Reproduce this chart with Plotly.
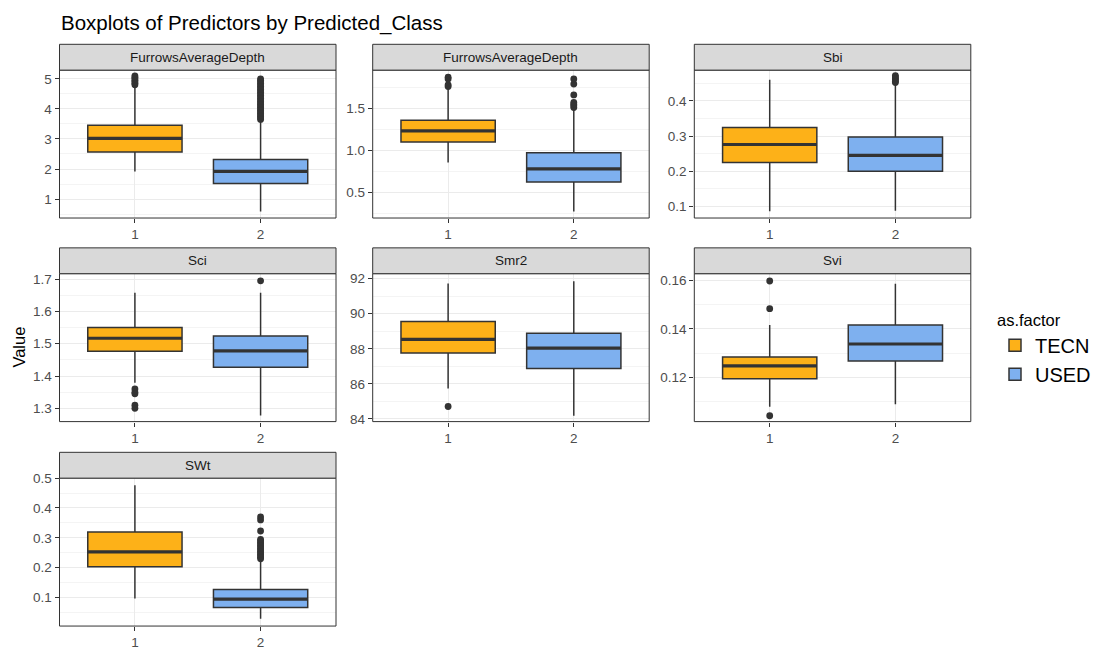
import plotly.graph_objects as go

W, H = 1097, 650

# ---------------- data ----------------
panel_names = ["FurrowsAverageDepth", "FurrowsAverageDepth", "Sbi",
               "Sci", "Smr2", "Svi", "SWt"]
class_labels = ["TECN", "USED"]
class_x = [1, 2]
x_tick_text = ["1", "2"]

tecn_q1 = [2.57, 1.100, 0.225, 1.477, 87.76, 0.1195, 0.203]
tecn_med = [3.02, 1.233, 0.276, 1.517, 88.54, 0.1248, 0.253]
tecn_q3 = [3.46, 1.358, 0.324, 1.550, 89.55, 0.1285, 0.320]
tecn_lo = [1.92, 0.856, 0.086, 1.379, 85.74, 0.1080, 0.097]
tecn_hi = [4.73, 1.740, 0.460, 1.658, 91.72, 0.1416, 0.476]
tecn_out = [
    [4.80, 4.85, 4.90, 4.95, 5.00, 5.05, 5.10],
    [1.76, 1.78, 1.85, 1.87],
    [],
    [1.360, 1.350, 1.345, 1.310, 1.300],
    [84.71],
    [0.1043, 0.1483, 0.1597],
    [],
]

used_q1 = [1.52, 0.625, 0.200, 1.427, 86.87, 0.1268, 0.067]
used_med = [1.92, 0.780, 0.245, 1.478, 88.04, 0.1338, 0.095]
used_q3 = [2.32, 0.973, 0.297, 1.524, 88.89, 0.1416, 0.127]
used_lo = [0.59, 0.275, 0.088, 1.278, 84.18, 0.1090, 0.029]
used_hi = [3.62, 1.500, 0.448, 1.658, 91.85, 0.1586, 0.225]
used_out = [
    [3.65, 3.70, 3.75, 3.80, 3.85, 3.90, 3.95, 4.00, 4.05, 4.10, 4.15, 4.20,
     4.25, 4.30, 4.35, 4.40, 4.45, 4.50, 4.55, 4.60, 4.65, 4.70, 4.75, 4.80,
     4.85, 4.90, 4.95, 5.00],
    [1.51, 1.53, 1.55, 1.57, 1.66, 1.79, 1.85],
    [0.452, 0.456, 0.460, 0.464, 0.468, 0.472],
    [1.695],
    [],
    [],
    [0.230, 0.235, 0.240, 0.245, 0.250, 0.255, 0.260, 0.265, 0.270, 0.275,
     0.280, 0.285, 0.290, 0.295, 0.323, 0.360, 0.370],
]

# ---------------- axis settings ----------------
y_tick0 = [1, 0.5, 0.1, 1.3, 84, 0.12, 0.1]
y_dtick = [1, 0.5, 0.1, 0.1, 2, 0.02, 0.1]
y_fmt = [".0f", ".1f", ".1f", ".1f", ".0f", ".2f", ".1f"]
y_ranges = [[0.37, 5.29], [0.197, 1.955], [0.067, 0.4875], [1.259, 1.717],
            [83.85, 92.28], [0.1019, 0.1627], [0.0046, 0.5]]

# ---------------- layout geometry (pixels) ----------------
col_left = [59.5, 372.7, 694.3]
panel_w = 276.5
row_top = [64.3, 271.7, 480.0]
panel_h = 150.7
strip_h = 26.3
box_w = 0.75

FONT = "Liberation Sans, Arial, Helvetica, sans-serif"
fills = {"TECN": "#FDB118", "USED": "#7EB0EF"}
DARK = "#333333"

fig = go.Figure()
shapes = []
annotations = []

groups = {
    "TECN": (tecn_q1, tecn_med, tecn_q3, tecn_lo, tecn_hi, tecn_out),
    "USED": (used_q1, used_med, used_q3, used_lo, used_hi, used_out),
}

for i, name in enumerate(panel_names):
    r, c = divmod(i, 3)
    k = "" if i == 0 else str(i + 1)
    xa, ya = "x" + k, "y" + k
    left = col_left[c]
    top = row_top[r]
    xdom = [left / W, (left + panel_w) / W]
    ydom = [1 - (top + panel_h) / H, 1 - top / H]

    fig.layout["xaxis" + k] = dict(
        domain=xdom, anchor=ya, range=[0.4, 2.6],
        tickmode="array", tickvals=class_x, ticktext=x_tick_text,
        ticks="outside", ticklen=4, tickwidth=1, tickcolor=DARK,
        showgrid=True, gridcolor="#EBEBEB", gridwidth=1.1,
        zeroline=False, showline=False,
        tickfont=dict(family=FONT, size=13.5, color="#4D4D4D"),
    )
    fig.layout["yaxis" + k] = dict(
        domain=ydom, anchor=xa, range=y_ranges[i],
        tickmode="linear", tick0=y_tick0[i], dtick=y_dtick[i],
        tickformat=y_fmt[i],
        ticks="outside", ticklen=4, tickwidth=1, tickcolor=DARK,
        showgrid=True, gridcolor="#EBEBEB", gridwidth=1.1,
        minor=dict(tick0=y_tick0[i], dtick=y_dtick[i] / 2, showgrid=True,
                   gridcolor="#F4F4F4", gridwidth=0.6, ticks=""),
        zeroline=False, showline=False,
        tickfont=dict(family=FONT, size=13.5, color="#4D4D4D"),
    )

    for j, cls in enumerate(class_labels):
        q1, med, q3, lo, hi, out = groups[cls]
        xpos = class_x[j]
        fig.add_trace(go.Box(
            x=[xpos], q1=[q1[i]], median=[med[i]], q3=[q3[i]],
            lowerfence=[lo[i]], upperfence=[hi[i]],
            width=box_w, whiskerwidth=0, boxpoints=False,
            fillcolor=fills[cls], line=dict(color=DARK, width=1.5),
            name=cls, legendgroup=cls, showlegend=(i == 0),
            xaxis=xa, yaxis=ya, hoverinfo="skip",
        ))
        # thicker median line like ggplot
        fig.add_trace(go.Scatter(
            x=[xpos - box_w / 2, xpos + box_w / 2], y=[med[i], med[i]],
            mode="lines", line=dict(color=DARK, width=3.2),
            showlegend=False, xaxis=xa, yaxis=ya, hoverinfo="skip",
        ))
        if out[i]:
            fig.add_trace(go.Scatter(
                x=[xpos] * len(out[i]), y=out[i], mode="markers",
                marker=dict(color=DARK, size=6.8),
                showlegend=False, xaxis=xa, yaxis=ya, hoverinfo="skip",
            ))

    # panel border
    shapes.append(dict(type="rect", xref=xa + " domain", yref=ya + " domain",
                       x0=0, x1=1, y0=0, y1=1,
                       line=dict(color=DARK, width=1), layer="above"))
    # strip
    s_top = top - strip_h
    shapes.append(dict(type="rect", xref="paper", yref="paper",
                       x0=xdom[0], x1=xdom[1],
                       y0=1 - top / H, y1=1 - s_top / H,
                       fillcolor="#D9D9D9", line=dict(color=DARK, width=1),
                       layer="above"))
    annotations.append(dict(
        text=name, xref="paper", yref="paper",
        x=(xdom[0] + xdom[1]) / 2, y=1 - (s_top + strip_h / 2) / H,
        xanchor="center", yanchor="middle", showarrow=False,
        font=dict(family=FONT, size=13.5, color="#1A1A1A")))

annotations.append(dict(
    text="Boxplots of Predictors by Predicted_Class", xref="paper", yref="paper",
    x=59.0 / W, y=1 - 16 / H, xanchor="left", yanchor="middle",
    showarrow=False, font=dict(family=FONT, size=20.5, color="#000000")))
annotations.append(dict(
    text="Value", xref="paper", yref="paper", x=19 / W, y=1 - 347 / H,
    xanchor="center", yanchor="middle", textangle=-90, showarrow=False,
    font=dict(family=FONT, size=16.5, color="#000000")))

fig.update_layout(
    width=W, height=H,
    margin=dict(l=0, r=0, t=0, b=0),
    paper_bgcolor="white", plot_bgcolor="white",
    boxmode="overlay",
    shapes=shapes, annotations=annotations,
    legend=dict(
        title=dict(text="as.factor", font=dict(family=FONT, size=16.5, color="#000000")),
        font=dict(family=FONT, size=20, color="#000000"),
        x=995 / W, y=1 - 303 / H, xanchor="left", yanchor="top",
        bgcolor="rgba(0,0,0,0)", tracegroupgap=0,
    ),
    font=dict(family=FONT),
)

fig.write_html(
    "out.html",
    config={"displayModeBar": False},
    post_script="document.body.style.margin='0';document.body.style.overflow='hidden';",
)
